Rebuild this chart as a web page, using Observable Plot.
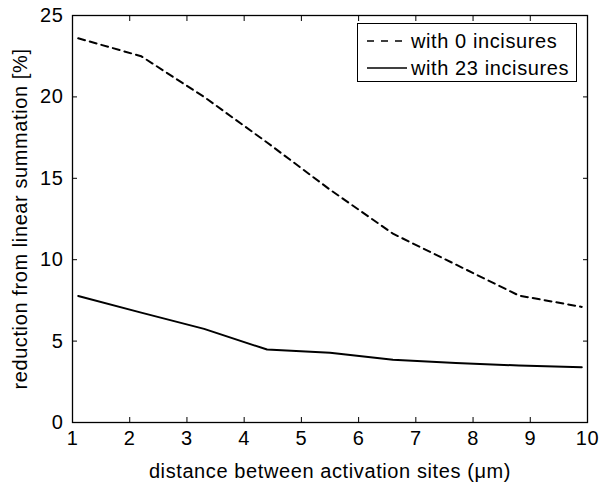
<!DOCTYPE html>
<html>
<head>
<meta charset="utf-8">
<script src="https://cdn.jsdelivr.net/npm/d3@7"></script>
<script src="https://cdn.jsdelivr.net/npm/@observablehq/plot@0.6"></script>
<style>
  html, body { margin: 0; padding: 0; background: #fff; }
  #wrap { position: relative; width: 599px; height: 483px; font-family: "Liberation Sans", Arial, Helvetica, sans-serif; }
  #wrap svg text { font-size: 20px !important; letter-spacing: 0.6px; }
  #legend { position: absolute; left: 357px; top: 23px; width: 220px; height: 59px; border: 1px solid #000; background: #fff; box-sizing: border-box; font-size: 20px; letter-spacing: 0.6px; color: #000; }
  .row { position: absolute; left: 0; height: 22px; display: flex; align-items: center; white-space: nowrap; }
  .row svg { margin-left: 9px; margin-right: 4px; }
</style>
</head>
<body>
<div id="wrap"></div>
<script>
const distance = [1.1, 2.2, 3.3, 4.4, 5.5, 6.6, 7.7, 8.8, 9.9];
const incisures0 = [23.6, 22.5, 20.0, 17.2, 14.3, 11.6, 9.7, 7.8, 7.1];
const incisures23 = [7.77, 6.75, 5.75, 4.48, 4.29, 3.86, 3.66, 3.5, 3.39];
const xTicks = [1, 2, 3, 4, 5, 6, 7, 8, 9, 10];
const yTicks = [0, 5, 10, 15, 20, 25];
const seriesNames = ["with 0 incisures", "with 23 incisures"];

const rows = [];
distance.forEach((d, i) => {
  rows.push({series: seriesNames[0], x: d, y: incisures0[i]});
  rows.push({series: seriesNames[1], x: d, y: incisures23[i]});
});

const chart = Plot.plot({
  width: 599,
  height: 483,
  marginLeft: 72,
  marginRight: 12,
  marginTop: 15,
  marginBottom: 61,
  style: {fontFamily: '"Liberation Sans", Arial, Helvetica, sans-serif', fontSize: "20px", color: "#000", background: "#fff"},
  x: {domain: [1, 10]},
  y: {domain: [0, 25]},
  marks: [
    Plot.axisX(xTicks, {anchor: "bottom", tickSize: -5, tickPadding: 13, label: "distance between activation sites (μm)", labelAnchor: "center", labelOffset: 55, labelArrow: "none"}),
    Plot.axisX(xTicks, {anchor: "top", tickSize: -5, tickFormat: () => "", label: null}),
    Plot.axisY(yTicks, {anchor: "left", tickSize: -5, tickPadding: 14, label: "reduction from linear summation [%]", labelAnchor: "center", labelOffset: 60, labelArrow: "none"}),
    Plot.axisY(yTicks, {anchor: "right", tickSize: -5, tickFormat: () => "", label: null}),
    Plot.frame({stroke: "#000", strokeWidth: 1.3}),
    Plot.line(rows.filter(r => r.series === seriesNames[0]), {x: "x", y: "y", stroke: "#000", strokeWidth: 2, strokeDasharray: "7,5"}),
    Plot.line(rows.filter(r => r.series === seriesNames[1]), {x: "x", y: "y", stroke: "#000", strokeWidth: 2})
  ]
});

const wrap = document.getElementById("wrap");
wrap.appendChild(chart);

const legend = document.createElement("div");
legend.id = "legend";
legend.innerHTML = `
  <div class="row" style="top:6px"><svg width="40" height="4"><line x1="0" y1="2" x2="40" y2="2" stroke="#000" stroke-width="1.5" stroke-dasharray="7,7"/></svg><span>${seriesNames[0]}</span></div>
  <div class="row" style="top:33px"><svg width="40" height="4"><line x1="0" y1="2" x2="40" y2="2" stroke="#000" stroke-width="1.5"/></svg><span>${seriesNames[1]}</span></div>`;
wrap.appendChild(legend);
</script>
</body>
</html>
